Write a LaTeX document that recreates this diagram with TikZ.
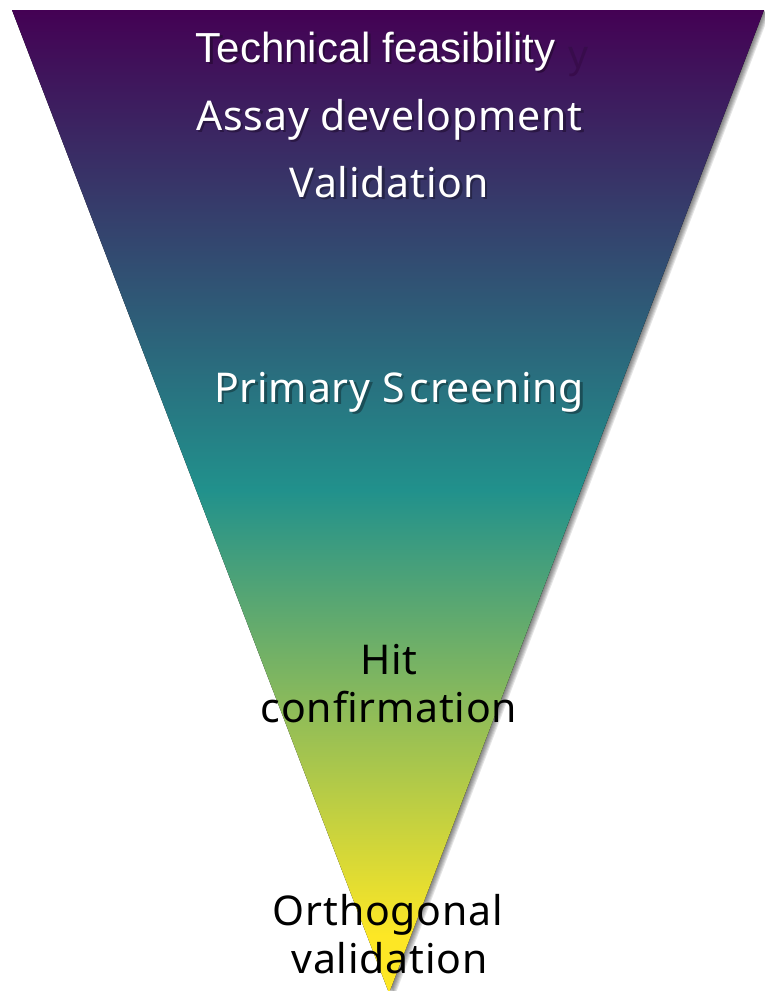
\documentclass[tikz,border=0pt]{standalone}
\usepackage{fontspec}
\setmainfont{Liberation Sans}
\newfontfamily\arialf{Liberation Sans}
\newfontfamily\segoef[LetterSpace=2]{Noto Sans}
\definecolor{v0}{HTML}{440154}
\definecolor{v5}{HTML}{21918C}
\definecolor{v9}{HTML}{FDE725}
\definecolor{sh1}{HTML}{2C0A3C}
\definecolor{sh2}{HTML}{2A1744}
\definecolor{sh3}{HTML}{262548}
\definecolor{sh4}{HTML}{1B4E57}
\definecolor{ghost}{HTML}{380C4C}
\pgfdeclareverticalshading{viridis}{100bp}{color(0bp)=(v9); color(27.95bp)=(v9);
 color(50.58bp)=(v5); color(75bp)=(v0); color(100bp)=(v0)}
\newcommand\shd[2]{\makebox[0pt][l]{\hspace{2.5pt}\raisebox{-2.5pt}{\textcolor{#1}{#2}}}#2}
\tikzset{
  lbl/.style={inner sep=0pt, anchor=base, text=white},
  lblk/.style={inner sep=0pt, anchor=base, text=black},
  segoe/.style={font=\segoef\fontsize{41}{41}\selectfont},
}
\begin{document}
\begin{tikzpicture}[x=1pt,y=-1pt]
\useasboundingbox (0,0) rectangle (764,991);
% drop shadow of the funnel
\foreach \k in {1,...,6}{
  \fill[black,opacity=0.1,shift={(\k,0.4*\k)}] (12,10) -- (764,10) -- (389,993) -- cycle;
}
\coordinate (tl) at (12,10);
\coordinate (tr) at (764,10);
\coordinate (ap) at (389,993);
\fill[shading=viridis] (tl) -- (tr) -- (ap) -- cycle;
% faint ghost letter
\node[inner sep=0pt, anchor=base, text=ghost, font=\arialf\fontsize{40}{40}\selectfont] (gy) at (578,68) {y};
% labels
\node[lbl, font=\arialf\fontsize{42}{42}\selectfont] (t1) at (375.5,62) {\shd{sh1}{Technical feasibility}};
\node[lbl, segoe] (t2) at (389.5,130) {\shd{sh2}{Assay development}};
\node[lbl, segoe] (t3) at (389,197) {\shd{sh3}{Validation}};
\node[lbl, segoe] (t4) at (399,402) {\shd{sh4}{Primary S\kern5pt creening}};
\node[lblk, segoe] (t5) at (389,674) {Hit};
\node[lblk, segoe] (t6) at (389,722) {confirmation};
\node[lblk, segoe] (t7) at (388,925) {Orthogonal};
\node[lblk, segoe] (t8) at (389.5,973) {validation};
\end{tikzpicture}
\end{document}
